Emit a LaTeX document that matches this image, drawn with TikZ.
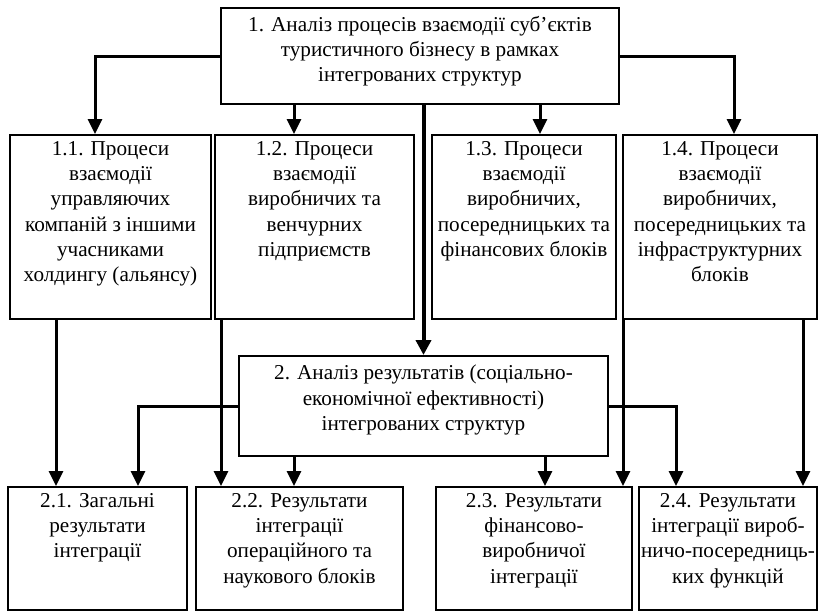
\documentclass[tikz,border=0pt]{standalone}
\usepackage{fontspec}
\setmainfont{Liberation Serif}
\usetikzlibrary{arrows.meta}
\begin{document}
\begin{tikzpicture}[x=1pt,y=-1pt,
  box/.style={draw,line width=2pt,inner sep=0pt,anchor=north west},
  txt/.style={anchor=north,align=center,inner sep=0pt,font=\fontsize{21.2}{25.3}\selectfont},
  link/.style={line width=3pt,-{Triangle[width=14pt,length=15pt]}},
  mainlink/.style={line width=4pt,-{Triangle[width=15pt,length=15pt]}}]
\useasboundingbox (0,0) rectangle (818,611);

% boxes
\node[box,minimum width=398pt,minimum height=96pt] (top) at (220,7) {};
\node[box,minimum width=201pt,minimum height=184pt] (b11) at (9,134) {};
\node[box,minimum width=199pt,minimum height=184pt] (b12) at (214,134) {};
\node[box,minimum width=184pt,minimum height=184pt] (b13) at (431,134) {};
\node[box,minimum width=194pt,minimum height=184pt] (b14) at (622,134) {};
\node[box,minimum width=369pt,minimum height=100pt] (b2) at (238,355) {};
\node[box,minimum width=179pt,minimum height=123pt] (b21) at (7,486) {};
\node[box,minimum width=207pt,minimum height=123pt] (b22) at (195,486) {};
\node[box,minimum width=196pt,minimum height=123pt] (b23) at (435,486) {};
\node[box,minimum width=178pt,minimum height=123pt] (b24) at (638,486) {};

% texts
\node[txt] (ttop) at ([yshift=-9pt]top.north) {1. Аналіз процесів взаємодії суб’єктів\\туристичного бізнесу в рамках\\інтегрованих структур};
\node[txt] (t11) at ([yshift=-7pt]b11.north) {1.1. Процеси\\взаємодії\\управляючих\\компаній з іншими\\учасниками\\холдингу (альянсу)};
\node[txt] (t12) at ([yshift=-7pt]b12.north) {1.2. Процеси\\взаємодії\\виробничих та\\венчурних\\підприємств};
\node[txt] (t13) at ([yshift=-7pt]b13.north) {1.3. Процеси\\взаємодії\\виробничих,\\посередницьких та\\фінансових блоків};
\node[txt] (t14) at ([yshift=-7pt]b14.north) {1.4. Процеси\\взаємодії\\виробничих,\\посередницьких та\\інфраструктурних\\блоків};
\node[txt] (t2) at ([yshift=-10pt]b2.north) {2. Аналіз результатів (соціально-\\економічної ефективності)\\інтегрованих структур};
\node[txt] (t21) at ([yshift=-7pt]b21.north) {2.1. Загальні\\результати\\інтеграції};
\node[txt] (t22) at ([yshift=-7pt]b22.north) {2.2. Результати\\інтеграції\\операційного та\\наукового блоків};
\node[txt] (t23) at ([yshift=-7pt]b23.north) {2.3. Результати\\фінансово-\\виробничої\\інтеграції};
\node[txt] (t24) at ([yshift=-7pt]b24.north) {2.4. Результати\\інтеграції вироб-\\ничо-посередниць-\\ких функцій};

% arrow end points
\coordinate (a11) at ([xshift=-15.5pt]b11.north);
\coordinate (a12) at ([xshift=-20.5pt]b12.north);
\coordinate (a13) at ([xshift=16pt]b13.north);
\coordinate (a14) at ([xshift=14pt]b14.north);
\coordinate (c11) at ([xshift=-54.5pt]b11.south);
\coordinate (c12) at ([xshift=7pt]b12.south west);
\coordinate (c14a) at ([xshift=1pt]b14.south west);
\coordinate (c14b) at ([xshift=83pt]b14.south);
\coordinate (d21) at ([xshift=40.5pt]b21.north);
\coordinate (d22) at ([xshift=-5.5pt]b22.north);
\coordinate (d23) at ([xshift=11pt]b23.north);
\coordinate (d24) at ([xshift=-52pt]b24.north);

% level 1 connectors
\draw[link] (top.west) -| (a11);
\draw[link] (top.south -| a12) -- (a12);
\draw[link] (top.south -| a13) -- (a13);
\draw[link] (top.east) -| (a14);
\draw[mainlink] (top.south -| b2.north) -- (b2.north);

% level 2 connectors
\draw[link] (c11) -- (c11 |- b21.north);
\draw[link] (b2.west) -| (d21);
\draw[link] (c12) -- (c12 |- b22.north);
\draw[link] (b2.south -| d22) -- (d22);
\draw[link] (b2.south -| d23) -- (d23);
\draw[link] (c14a) -- (c14a |- b23.north);
\draw[link] (b2.east) -| (d24);
\draw[link] (c14b) -- (c14b |- b24.north);
\end{tikzpicture}
\end{document}
